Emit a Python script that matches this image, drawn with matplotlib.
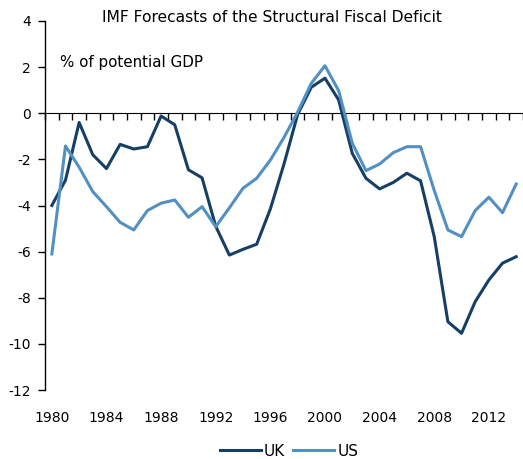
import numpy as np
import matplotlib.pyplot as plt
from matplotlib.ticker import FixedLocator

plt.rcParams['font.family'] = ['DejaVu Sans']
plt.rcParams['axes.unicode_minus'] = False

# structural fiscal deficit, % of potential GDP
years = list(range(1980, 2015))
uk = [-4.0, -2.9, -0.4, -1.8, -2.4, -1.35, -1.55, -1.45, -0.12, -0.5,
      -2.45, -2.8, -4.9, -6.15, -5.9, -5.68, -4.15, -2.2, -0.05, 1.13,
      1.52, 0.58, -1.74, -2.82, -3.28, -3.0, -2.6, -2.93, -5.35, -9.04,
      -9.54, -8.17, -7.23, -6.5, -6.22]
us = [-6.1, -1.42, -2.34, -3.4, -4.05, -4.73, -5.06, -4.22, -3.9, -3.76,
      -4.51, -4.05, -4.92, -4.1, -3.25, -2.82, -2.03, -1.05, 0.05, 1.3,
      2.06, 0.98, -1.3, -2.49, -2.2, -1.71, -1.45, -1.45, -3.35, -5.06,
      -5.35, -4.22, -3.64, -4.31, -3.07]
year_labels = [1980, 1984, 1988, 1992, 1996, 2000, 2004, 2008, 2012]

uk_color = '#163f66'
us_color = '#5290c4'

fig = plt.figure(figsize=(5.23, 4.59), dpi=100)
ax = fig.add_axes([45 / 523, 1 - 390 / 459, 478 / 523, 369 / 459])

ax.plot(years, uk, color=uk_color, lw=2.2, label='UK')
ax.plot(years, us, color=us_color, lw=2.2, label='US')

ax.set_xlim(1979.5, 2014.5)
ax.set_ylim(-12, 4)
ax.set_yticks(np.arange(-12, 5, 2))
ax.tick_params(axis='y', direction='out', length=5, width=1, labelsize=10, pad=5)

ax.set_xticks(year_labels)
ax.tick_params(axis='x', length=0, labelsize=10, pad=15)

for s in ['top', 'right', 'bottom']:
    ax.spines[s].set_visible(False)
ax.spines['left'].set_linewidth(1)

# category-style axis line at zero with ticks between years
zero = ax.secondary_xaxis(0.75)
zero.xaxis.set_major_locator(FixedLocator(np.arange(1979.5, 2015, 1)))
zero.xaxis.set_ticks_position('bottom')
zero.tick_params(direction='out', length=5, width=1, labelbottom=False, labeltop=False)
zero.spines['bottom'].set_linewidth(1)

fig.text(272 / 523, 1 - 18 / 459, 'IMF Forecasts of the Structural Fiscal Deficit',
         ha='center', va='center', fontsize=11.2)
fig.text(60 / 523, 1 - 62 / 459, '% of potential GDP', ha='left', va='center', fontsize=10.9)

fig.legend(loc='center', bbox_to_anchor=(289 / 523, 1 - 451 / 459), ncol=2, frameon=False,
           fontsize=11, handlelength=2.7, handletextpad=0.2, columnspacing=0.5)

fig.savefig('out.png', dpi=100)
